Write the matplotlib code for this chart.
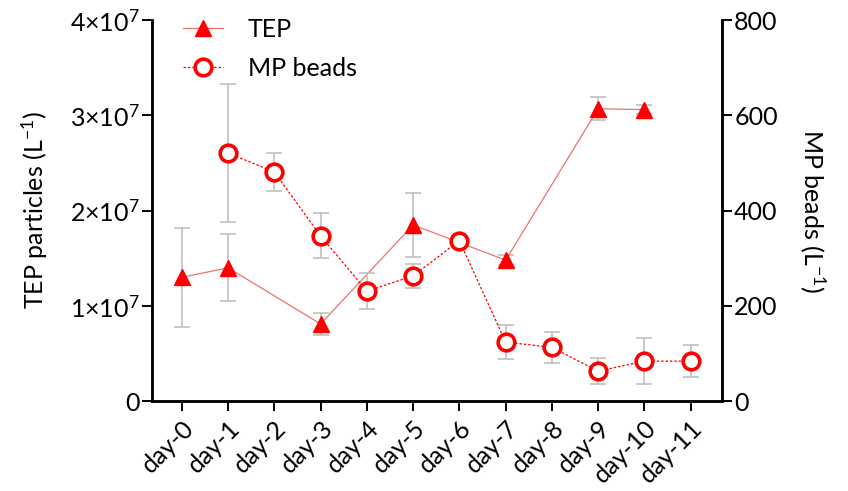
import numpy as np
import matplotlib
matplotlib.use("Agg")
import matplotlib.pyplot as plt
from matplotlib.lines import Line2D

plt.rcParams['font.family'] = ['Lato', 'DejaVu Sans']
plt.rcParams['mathtext.fontset'] = 'custom'
plt.rcParams['mathtext.rm'] = 'Lato'
plt.rcParams['mathtext.default'] = 'regular'

days = ['day-0', 'day-1', 'day-2', 'day-3', 'day-4', 'day-5',
        'day-6', 'day-7', 'day-8', 'day-9', 'day-10', 'day-11']

# TEP particles (L^-1), only measured on some days
tep_idx = [0, 1, 3, 5, 7, 9, 10]
tep_mean = [1.30e7, 1.40e7, 0.81e7, 1.85e7, 1.48e7, 3.07e7, 3.06e7]
tep_err = [0.52e7, 0.35e7, 0.12e7, 0.34e7, 0.05e7, 0.12e7, 0.05e7]

# MP beads (L^-1)
mp_idx = [1, 2, 3, 4, 5, 6, 7, 8, 9, 10, 11]
mp_mean = [521, 481, 347, 231, 263, 337, 124, 113, 63, 84, 84]
mp_err = [145, 40, 47, 38, 25, 5, 36, 32, 27, 48, 33]

red = '#ff0000'
line_red = '#f07070'
grey = '#c0c0c0'
fs = 18

fig = plt.figure(figsize=(8.48, 4.91), dpi=100)
ax = fig.add_axes([0.179, 0.183, 0.672, 0.776])
ax2 = ax.twinx()

ax.errorbar(tep_idx, tep_mean, yerr=tep_err, fmt='none', ecolor=grey,
            elinewidth=1.2, capsize=6, capthick=1.2, zorder=1)
ax.plot(tep_idx, tep_mean, color=line_red, lw=0.9, zorder=2)
ax.plot(tep_idx, tep_mean, ls='none', marker='^', ms=12, color=red, zorder=3)

ax2.errorbar(mp_idx, mp_mean, yerr=mp_err, fmt='none', ecolor=grey,
             elinewidth=1.2, capsize=6, capthick=1.2, zorder=1)
ax2.plot(mp_idx, mp_mean, color=red, lw=0.9, ls=(0, (2, 1.5)), zorder=2)
ax2.plot(mp_idx, mp_mean, ls='none', marker='o', ms=12, mfc='white',
         mec=red, mew=2.6, zorder=3)

ax.set_xlim(-0.65, 11.67)
ax.set_ylim(0, 4e7)
ax2.set_ylim(0, 800)

ax.set_xticks(range(len(days)))
ax.set_xticklabels(days, rotation=45, ha='right', rotation_mode='anchor', fontsize=fs)
ax.set_yticks([0, 1e7, 2e7, 3e7, 4e7])
ax.set_yticklabels(['0', '1×10$^{7}$', '2×10$^{7}$', '3×10$^{7}$', '4×10$^{7}$'], fontsize=fs)
ax2.set_yticks([0, 200, 400, 600, 800])
ax2.set_yticklabels(['0', '200', '400', '600', '800'], fontsize=fs)

for a in (ax, ax2):
    a.spines['top'].set_visible(False)
    for s in ('left', 'right', 'bottom'):
        a.spines[s].set_linewidth(1.8)
    a.tick_params(width=1.4, length=7, direction='out', pad=2)
ax.tick_params(axis='x', pad=4)

ax.set_ylabel('TEP particles (L$^{-1}$)', fontsize=fs, labelpad=14)
ax2.set_ylabel('MP beads (L$^{-1}$)', fontsize=fs, rotation=270, labelpad=36)

handles = [
    Line2D([], [], color=line_red, lw=0.9, marker='^', ms=12,
           mfc=red, mec=red),
    Line2D([], [], color=red, lw=0.9, ls=(0, (2, 1.5)), marker='o', ms=12,
           mfc='white', mec=red, mew=2.6),
]
ax2.legend(handles, ['TEP', 'MP beads'], loc='upper left', frameon=False,
           fontsize=fs, bbox_to_anchor=(0.015, 1.065), handlelength=1.6,
           labelspacing=0.65, handletextpad=1.0)

fig.savefig('out.png', dpi=100)
